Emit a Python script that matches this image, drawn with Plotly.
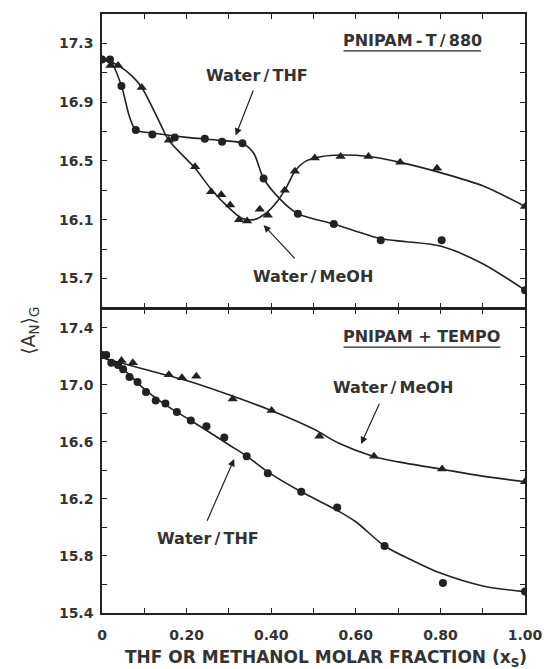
import plotly.graph_objects as go

# ---------------- data ----------------
# Top panel: PNIPAM-T/880
top_thf_x = [0.0, 0.019, 0.046, 0.08, 0.119, 0.172, 0.243, 0.284, 0.332, 0.382, 0.463, 0.548, 0.659, 0.803, 1.0]
top_thf_y = [17.19, 17.19, 17.01, 16.71, 16.68, 16.66, 16.65, 16.63, 16.62, 16.38, 16.14, 16.07, 15.96, 15.96, 15.62]
top_meoh_x = [0.0, 0.02, 0.038, 0.094, 0.158, 0.22, 0.258, 0.282, 0.303, 0.324, 0.343, 0.373, 0.392, 0.432, 0.456,
              0.503, 0.564, 0.63, 0.705, 0.792, 1.0]
top_meoh_y = [17.19, 17.15, 17.15, 17.0, 16.64, 16.46, 16.29, 16.27, 16.20, 16.10, 16.09, 16.17, 16.13, 16.30, 16.43,
              16.52, 16.53, 16.53, 16.49, 16.45, 16.19]
# hand-drawn smooth curves (top)
top_thf_curve_x = [0, 0.02, 0.046, 0.065, 0.08, 0.12, 0.2, 0.28, 0.332, 0.359, 0.382, 0.421, 0.463, 0.548, 0.659,
                   0.72, 0.8, 0.9, 1.0]
top_thf_curve_y = [17.2, 17.18, 17.01, 16.8, 16.71, 16.69, 16.66, 16.64, 16.62, 16.55, 16.38, 16.24, 16.14, 16.07,
                   15.97, 15.95, 15.92, 15.80, 15.62]
top_meoh_curve_x = [0, 0.038, 0.07, 0.094, 0.13, 0.158, 0.22, 0.26, 0.3, 0.33, 0.359, 0.39, 0.413, 0.436, 0.456,
                    0.483, 0.52, 0.564, 0.63, 0.705, 0.8, 0.9, 1.0]
top_meoh_curve_y = [17.2, 17.15, 17.08, 17.0, 16.8, 16.64, 16.45, 16.3, 16.18, 16.11, 16.10, 16.15, 16.22, 16.32,
                    16.43, 16.50, 16.53, 16.54, 16.53, 16.49, 16.42, 16.33, 16.19]

# Bottom panel: PNIPAM + TEMPO
bot_meoh_x = [0.0, 0.046, 0.073, 0.158, 0.189, 0.223, 0.309, 0.401, 0.514, 0.643, 0.804, 1.0]
bot_meoh_y = [17.21, 17.17, 17.155, 17.07, 17.05, 17.06, 16.90, 16.82, 16.64, 16.50, 16.41, 16.32]
bot_thf_x = [0.0, 0.01, 0.022, 0.038, 0.05, 0.065, 0.084, 0.104, 0.127, 0.15, 0.177, 0.21, 0.247, 0.289, 0.342,
             0.392, 0.471, 0.556, 0.668, 0.806, 1.0]
bot_thf_y = [17.21, 17.21, 17.155, 17.14, 17.11, 17.055, 17.02, 16.95, 16.89, 16.87, 16.81, 16.75, 16.71, 16.63,
             16.50, 16.38, 16.25, 16.14, 15.87, 15.61, 15.55]
bot_meoh_curve_x = [0, 0.1, 0.2, 0.3, 0.4, 0.5, 0.56, 0.64, 0.7, 0.8, 0.9, 1.0]
bot_meoh_curve_y = [17.19, 17.11, 17.03, 16.93, 16.82, 16.69, 16.59, 16.50, 16.46, 16.41, 16.36, 16.32]
bot_thf_curve_x = [0, 0.05, 0.1, 0.15, 0.21, 0.3, 0.342, 0.392, 0.471, 0.556, 0.6, 0.668, 0.74, 0.8, 0.9, 1.0]
bot_thf_curve_y = [17.2, 17.11, 16.97, 16.86, 16.75, 16.58, 16.50, 16.39, 16.25, 16.12, 16.04, 15.87, 15.76, 15.68,
                   15.59, 15.55]

x_tickvals = [0, 0.2, 0.4, 0.6, 0.8, 1.0]
x_ticktext = ["0", "0.20", "0.40", "0.60", "0.80", "1.00"]

# ---------------- figure ----------------
INK = "#222222"
TXT = "#333333"
FONT = "DejaVu Sans"

fig = go.Figure()

def curve(x, y, xa, ya):
    fig.add_trace(go.Scatter(x=x, y=y, mode="lines", xaxis=xa, yaxis=ya,
                             line=dict(color=INK, width=1.6, shape="spline", smoothing=0.8),
                             hoverinfo="skip", showlegend=False))

def points(x, y, xa, ya, symbol, size):
    fig.add_trace(go.Scatter(x=x, y=y, mode="markers", xaxis=xa, yaxis=ya,
                             marker=dict(symbol=symbol, size=size, color=INK),
                             showlegend=False))

curve(top_thf_curve_x, top_thf_curve_y, "x2", "y2")
curve(top_meoh_curve_x, top_meoh_curve_y, "x2", "y2")
points(top_thf_x, top_thf_y, "x2", "y2", "circle", 8)
points(top_meoh_x, top_meoh_y, "x2", "y2", "triangle-up", 9)

curve(bot_thf_curve_x, bot_thf_curve_y, "x", "y")
curve(bot_meoh_curve_x, bot_meoh_curve_y, "x", "y")
points(bot_thf_x, bot_thf_y, "x", "y", "circle", 8)
points(bot_meoh_x, bot_meoh_y, "x", "y", "triangle-up", 9)

tickfont = dict(family=FONT, size=14, color=TXT, weight="bold")
split = 0.5083
gap = 0.75 / 600.0

xcommon = dict(range=[0, 1.0], showline=True, linecolor=INK, linewidth=1.5, mirror="ticks",
               ticks="inside", ticklen=5, tickwidth=1.3, tickcolor=INK,
               tickmode="array", tickvals=x_tickvals, ticktext=x_ticktext,
               minor=dict(dtick=0.1, tick0=0, ticks="inside", ticklen=5, tickwidth=1.3, tickcolor=INK),
               showgrid=False, zeroline=False, tickfont=tickfont)
ycommon = dict(showline=True, linecolor=INK, linewidth=1.5, mirror="ticks",
               ticks="inside", ticklen=5, tickwidth=1.3, tickcolor=INK, dtick=0.4,
               tickformat=".1f", showgrid=False, zeroline=False, tickfont=tickfont,
               ticklabelstandoff=4)

fig.update_layout(
    width=555, height=669,
    margin=dict(l=102, r=22, t=13, b=56),
    paper_bgcolor="white", plot_bgcolor="white",
    xaxis=dict(**xcommon, anchor="y", ticklabelstandoff=8),
    xaxis2=dict(**xcommon, anchor="y2", matches="x", showticklabels=False),
    yaxis=dict(**ycommon, domain=[0, split - gap], range=[15.4, 17.53], tick0=15.4,
               minor=dict(dtick=0.2, tick0=15.4, ticks="inside", ticklen=5, tickwidth=1.3, tickcolor=INK)),
    yaxis2=dict(**ycommon, domain=[split + gap, 1], range=[15.5, 17.5], tick0=15.7,
                minor=dict(dtick=0.2, tick0=15.7, ticks="inside", ticklen=5, tickwidth=1.3, tickcolor=INK)),
)

afont = dict(family=FONT, size=16, color=TXT, weight="bold")
T = "\u2009"
annos = [
    dict(x=0.733, y=17.317, xref="x2", yref="y2", text="PNIPAM" + T + "-" + T + "T" + T + "/" + T + "880", showarrow=False, font=afont),
    dict(x=0.367, y=17.08, xref="x2", yref="y2", text="Water" + T + "/" + T + "THF", showarrow=False, font=afont),
    dict(x=0.498, y=15.712, xref="x2", yref="y2", text="Water" + T + "/" + T + "MeOH", showarrow=False, font=afont),
    dict(x=0.756, y=17.341, xref="x", yref="y", text="PNIPAM + TEMPO", showarrow=False, font=afont),
    dict(x=0.687, y=16.978, xref="x", yref="y", text="Water" + T + "/" + T + "MeOH", showarrow=False, font=afont),
    dict(x=0.251, y=15.924, xref="x", yref="y", text="Water" + T + "/" + T + "THF", showarrow=False, font=afont),
]
arrows = [
    ("x2", "y2", 0.316, 16.673, 0.359, 16.99),
    ("x2", "y2", 0.382, 16.063, 0.459, 15.826),
    ("x", "y", 0.6125, 16.585, 0.657, 16.876),
    ("x", "y", 0.3125, 16.48, 0.247, 16.037),
]
for xr, yr, hx, hy, tx, ty in arrows:
    annos.append(dict(x=hx, y=hy, ax=tx, ay=ty, xref=xr, yref=yr, axref=xr, ayref=yr, text="",
                      showarrow=True, arrowhead=2, arrowsize=1.2, arrowwidth=1.2, arrowcolor=INK))

annos.append(dict(x=(330 - 102) / 431, y=(613 - 659) / 600, xref="paper", yref="paper",
                  text="THF OR METHANOL MOLAR FRACTION (x<sub>S</sub>)", showarrow=False,
                  font=dict(family=FONT, size=17, color=TXT, weight="bold"), yanchor="middle"))
annos.append(dict(x=(28 - 102) / 431, y=(613 - 330) / 600, xref="paper", yref="paper",
                  text="\u27e8A<sub>N</sub>\u27e9<sub>G</sub>", showarrow=False, textangle=-90,
                  font=dict(family=FONT, size=19, color=TXT), yanchor="middle", xanchor="center"))
fig.update_layout(annotations=annos)

shapes = [
    dict(type="line", xref="x2", yref="y2", x0=0.571, x1=0.896, y0=17.249, y1=17.249,
         line=dict(color=INK, width=1.3)),
    dict(type="line", xref="x", yref="y", x0=0.571, x1=0.942, y0=17.265, y1=17.265,
         line=dict(color=INK, width=1.3)),
]
fig.update_layout(shapes=shapes)

fig.write_html("out.html")
